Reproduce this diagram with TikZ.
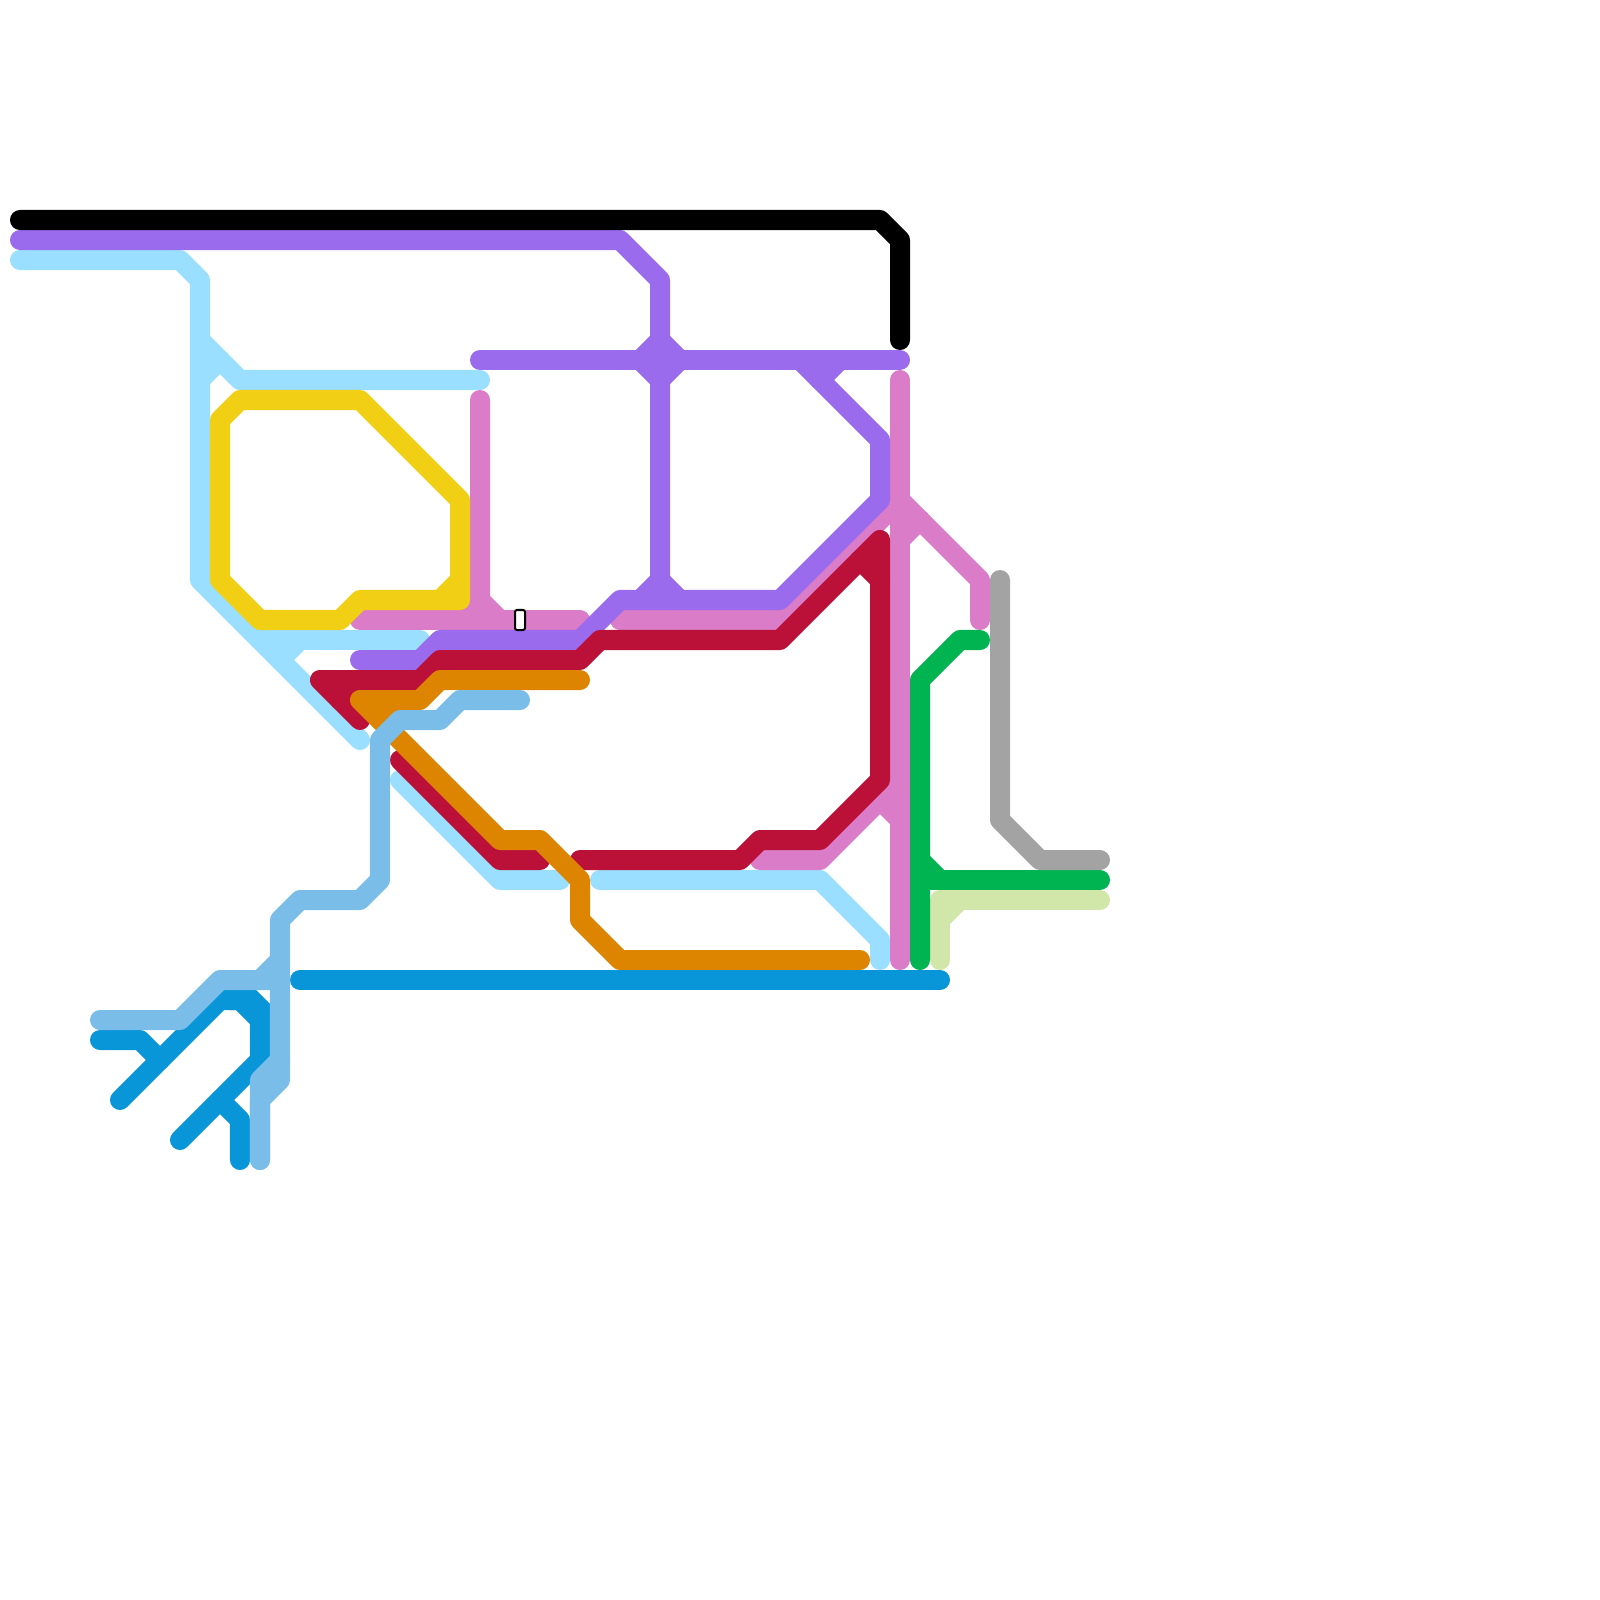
\documentclass[tikz,border=0pt]{standalone}
\definecolor{cBlack}{HTML}{000000}
\definecolor{cPurple}{HTML}{9B6BEE}
\definecolor{cSky}{HTML}{9ADFFF}
\definecolor{cYellow}{HTML}{F0CF14}
\definecolor{cPink}{HTML}{DA7CC8}
\definecolor{cRed}{HTML}{BB1138}
\definecolor{cOrange}{HTML}{DD8500}
\definecolor{cSteel}{HTML}{7ABDE9}
\definecolor{cBlue}{HTML}{0896D8}
\definecolor{cGreen}{HTML}{00B451}
\definecolor{cLime}{HTML}{D1E6A9}
\definecolor{cGray}{HTML}{A3A3A3}
\tikzset{
  metro/.style={line width=0.2cm,line cap=round,line join=round},
  skyline/.style={metro,draw=cSky},
  pinkline/.style={metro,draw=cPink},
  yellowline/.style={metro,draw=cYellow},
  purpleline/.style={metro,draw=cPurple},
  redline/.style={metro,draw=cRed},
  orangeline/.style={metro,draw=cOrange},
  blueline/.style={metro,draw=cBlue},
  steelline/.style={metro,draw=cSteel},
  greenline/.style={metro,draw=cGreen},
  limeline/.style={metro,draw=cLime},
  grayline/.style={metro,draw=cGray},
  blackline/.style={metro,draw=cBlack},
  stationbox/.style={draw=black,fill=white,line width=0.02cm,rounded corners=0.02cm,minimum width=0.1cm,minimum height=0.2cm,inner sep=0pt,outer sep=0pt}
}
\begin{document}
\begin{tikzpicture}[x=0.01cm,y=-0.01cm]
\useasboundingbox (0,0) rectangle (1600,1600);
% sky blue
\draw[skyline] (20,260) -- (180,260) -- (200,280) -- (200,580) -- (360,740);
\draw[skyline] (200,340) -- (240,380) -- (480,380);
\draw[skyline] (200,380) -- (220,360);
\draw[skyline] (260,640) -- (420,640);
\draw[skyline] (280,660) -- (300,640);
\draw[skyline] (400,780) -- (500,880) -- (560,880);
\draw[skyline] (600,880) -- (820,880) -- (880,940) -- (880,960);
% pink
\draw[pinkline] (480,400) -- (480,600) -- (500,620);
\draw[pinkline] (480,600) -- (460,620);
\draw[pinkline] (360,620) -- (580,620);
\draw[pinkline] (620,620) -- (780,620) -- (900,500) -- (980,580) -- (980,620);
\draw[pinkline] (900,380) -- (900,960);
\draw[pinkline] (900,540) -- (920,520);
\draw[pinkline] (760,860) -- (820,860) -- (900,780);
\draw[pinkline] (880,800) -- (900,820);
% yellow
\draw[yellowline] (220,420) -- (240,400) -- (360,400) -- (460,500) -- (460,600) -- (360,600) -- (340,620) -- (260,620) -- (220,580) -- cycle;
\draw[yellowline] (440,600) -- (460,580);
% purple
\draw[purpleline] (20,240) -- (620,240) -- (660,280) -- (660,580);
\draw[purpleline] (480,360) -- (900,360);
\filldraw[purpleline,fill=cPurple] (640,360) -- (660,340) -- (680,360) -- (660,380) -- cycle;
\draw[purpleline] (360,660) -- (420,660) -- (440,640) -- (580,640) -- (620,600) -- (780,600) -- (880,500) -- (880,440) -- (800,360);
\draw[purpleline] (640,600) -- (660,580) -- (680,600);
\draw[purpleline] (820,380) -- (840,360);
% red
\draw[redline] (360,720) -- (320,680) -- (420,680) -- (440,660) -- (580,660) -- (600,640) -- (780,640) -- (880,540) -- (880,780) -- (820,840) -- (760,840) -- (740,860) -- (580,860);
\draw[redline] (360,680) -- (340,700);
\draw[redline] (860,560) -- (880,580);
\draw[redline] (400,760) -- (500,860) -- (540,860);
% orange
\draw[orangeline] (580,680) -- (440,680) -- (420,700) -- (360,700) -- (500,840) -- (540,840) -- (580,880) -- (580,920) -- (620,960) -- (860,960);
\draw[orangeline] (380,720) -- (400,700);
% blue
\draw[blueline] (300,980) -- (940,980);
\draw[blueline] (120,1100) -- (220,1000) -- (240,1000);
\draw[blueline,line join=miter,line cap=butt] (230,1000) -- (252,1000) -- (260,1008) -- (260,1040);
\draw[blueline] (260,1040) -- (260,1060) -- (180,1140);
\draw[blueline] (240,1000) -- (260,1020);
\draw[blueline] (100,1040) -- (140,1040) -- (160,1060);
\draw[blueline] (220,1100) -- (240,1120) -- (240,1160);
% steel
\draw[steelline] (520,700) -- (460,700) -- (440,720) -- (400,720) -- (380,740) -- (380,880) -- (360,900) -- (300,900) -- (280,920) -- (280,1080) -- (260,1100) -- (260,1160);
\draw[steelline] (260,980) -- (280,960);
\draw[steelline] (100,1020) -- (180,1020) -- (220,980) -- (280,980);
\draw[steelline] (260,1160) -- (260,1080) -- (280,1060);
% light green, green
\draw[limeline] (940,960) -- (940,900) -- (1100,900);
\draw[limeline] (940,920) -- (960,900);
\draw[greenline] (920,960) -- (920,680) -- (960,640) -- (980,640);
\draw[greenline] (920,860) -- (940,880);
\draw[greenline] (920,880) -- (1100,880);
% gray
\draw[grayline] (1000,580) -- (1000,820) -- (1040,860) -- (1100,860);
% black
\draw[blackline] (20,220) -- (880,220) -- (900,240) -- (900,340);
% station
\node[stationbox] (st) at (520,620) {};
\end{tikzpicture}
\end{document}
